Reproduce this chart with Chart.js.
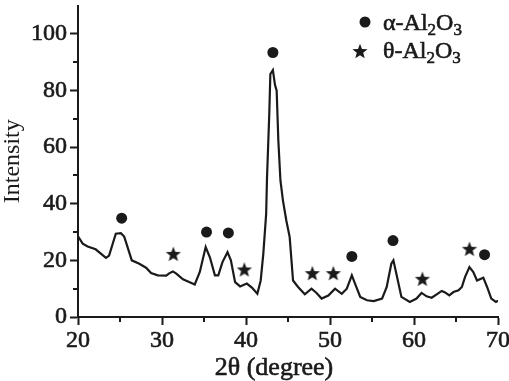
<!DOCTYPE html>
<html>
<head>
<meta charset="utf-8">
<script src="https://cdn.jsdelivr.net/npm/chart.js@4/dist/chart.umd.min.js"></script>
<style>
    html, body { margin: 0; padding: 0; background: #fff; }
    #wrap { width: 509px; height: 381px; }
</style>
</head>
<body>
<div id="wrap"><canvas id="xrd" width="509" height="381"></canvas></div>
<script>
// diffraction pattern
var twoTheta = [20.0, 20.56, 21.15, 22.1, 23.33, 23.7, 24.5, 25.1, 25.5, 25.9, 26.4, 27.3, 28.1, 28.7, 29.5, 30.5,
    30.9, 31.3, 31.7, 32.5, 33.3, 33.9, 34.5, 35.2, 35.7, 36.3, 36.7, 37.2, 37.8, 38.2, 38.7, 39.3, 40.1, 40.7,
    41.35, 41.75, 42.06, 42.4, 42.5, 42.77, 42.9, 43.2, 43.45, 43.65, 43.85, 44.1, 44.4, 44.8, 45.2, 45.6, 46.2,
    47.0, 47.8, 48.4, 49.0, 49.8, 50.6, 51.4, 52.0, 52.6, 53.06, 53.6, 54.4, 55.2, 56.2, 56.75, 57.3, 57.55, 57.9,
    58.5, 59.5, 60.3, 60.9, 61.5, 62.1, 62.7, 63.3, 63.7, 64.2, 64.7, 65.3, 65.7, 66.07, 66.6, 67.06, 67.5, 68.25,
    68.7, 69.2, 69.75, 70.0];
var intensity = [28.5, 25.9, 24.9, 23.9, 20.9, 21.7, 29.4, 29.6, 28.4, 24.7, 20.0, 18.8, 17.4, 15.5, 14.7, 14.6,
    15.5, 16.1, 15.3, 13.3, 12.3, 11.5, 15.9, 24.7, 21.1, 14.7, 14.7, 19.4, 22.9, 20.0, 12.3, 10.8, 11.8, 10.4,
    8.2, 12.9, 22.3, 36.4, 49.0, 71.7, 85.8, 87.2, 82.0, 79.9, 62.3, 48.2, 41.1, 34.1, 28.2, 12.9, 10.6,
    8.0, 10.0, 8.5, 6.5, 7.6, 10.0, 8.2, 10.0, 14.7, 11.2, 7.1, 5.9, 5.6, 6.5, 10.6, 18.8, 20.0, 15.3,
    7.1, 5.3, 6.5, 8.5, 7.3, 6.8, 8.0, 9.2, 8.7, 7.6, 8.8, 9.4, 10.6, 14.1, 17.6, 15.9, 12.9, 13.9,
    10.6, 6.5, 5.3, 5.8];

// phase markers above the peaks
var alphaX = [25.2, 35.3, 37.9, 43.2, 52.6, 57.5, 68.4];
var alphaY = [34.9, 30.0, 29.7, 93.4, 21.4, 27.0, 22.0];
var thetaX = [31.35, 39.8, 47.9, 50.4, 61.0, 66.6];
var thetaY = [22.3, 16.8, 15.5, 15.5, 13.5, 24.1];

var xTicks = [20, 30, 40, 50, 60, 70];
var yTicks = [0, 20, 40, 60, 80, 100];
var xMinor = [25, 35, 45, 55, 65];
var yMinor = [10, 30, 50, 70, 90];

var INK = '#1a1a1a';
var SERIF = '"Liberation Serif", "DejaVu Serif", serif';

function makeStar(r)
{
    var c = document.createElement('canvas');
    c.width = c.height = Math.ceil(2 * r + 2);
    var g = c.getContext('2d');
    var cx = c.width / 2, cy = c.height / 2 + r * 0.1;
    g.beginPath();
    for (var i = 0; i < 10; i++)
    {
        var rad = (i % 2 == 0) ? r : r * 0.42;
        var a = -Math.PI / 2 + i * Math.PI / 5;
        g.lineTo(cx + rad * Math.cos(a), cy + rad * Math.sin(a));
    }
    g.closePath();
    g.fillStyle = INK;
    g.fill();
    return c;
}

var star = makeStar(8);

function pairs(xs, ys)
{
    return xs.map(function(x, i) { return {x: x, y: ys[i]}; });
}

// heavier text, the scanned figure has thick glyphs
function inkText(ctx, s, x, y)
{
    ctx.fillText(s, x, y);
    ctx.strokeText(s, x, y);
}

var extras = {
    id: 'extras',
    afterDraw: function(chart)
    {
        var ctx = chart.ctx;
        var xs = chart.scales.x, ys = chart.scales.y;
        var area = chart.chartArea;

        ctx.save();
        ctx.strokeStyle = INK;
        ctx.lineWidth = 2;
        ctx.beginPath();
        xMinor.forEach(function(v)
        {
            var px = Math.round(xs.getPixelForValue(v));
            ctx.moveTo(px, area.bottom);
            ctx.lineTo(px, area.bottom + 5);
        });
        yMinor.forEach(function(v)
        {
            var py = Math.round(ys.getPixelForValue(v));
            ctx.moveTo(area.left, py);
            ctx.lineTo(area.left - 5, py);
        });
        ctx.stroke();

        ctx.fillStyle = INK;
        ctx.lineWidth = 0.6;

        // x axis title
        ctx.font = '26px ' + SERIF;
        ctx.textAlign = 'center';
        ctx.textBaseline = 'alphabetic';
        inkText(ctx, '2\u03b8 (degree)', 274, 375);

        // legend
        ctx.beginPath();
        ctx.arc(365, 22, 5.5, 0, Math.PI * 2);
        ctx.fill();
        ctx.drawImage(star, 360 - star.width / 2, 51 - star.height / 2);

        drawFormula(ctx, '\u03b1-Al', 383, 30);
        drawFormula(ctx, '\u03b8-Al', 383, 58);
        ctx.restore();
    }
};

function drawFormula(ctx, head, x, y)
{
    ctx.textAlign = 'left';
    ctx.font = '24px ' + SERIF;
    inkText(ctx, head, x, y);
    x += ctx.measureText(head).width;
    ctx.font = '17px ' + SERIF;
    inkText(ctx, '2', x, y + 5);
    x += ctx.measureText('2').width;
    ctx.font = '24px ' + SERIF;
    inkText(ctx, 'O', x, y);
    x += ctx.measureText('O').width;
    ctx.font = '17px ' + SERIF;
    inkText(ctx, '3', x, y + 5);
}

new Chart(document.getElementById('xrd').getContext('2d'), {
    type: 'line',
    data: {
        datasets: [
            {
                data: pairs(twoTheta, intensity),
                borderColor: INK,
                borderWidth: 2.2,
                pointRadius: 0,
                tension: 0,
                fill: false
            },
            {
                type: 'scatter',
                data: pairs(alphaX, alphaY),
                pointStyle: 'circle',
                pointRadius: 5.5,
                backgroundColor: INK,
                borderWidth: 0,
                showLine: false
            },
            {
                type: 'scatter',
                data: pairs(thetaX, thetaY),
                pointStyle: star,
                showLine: false
            }
        ]
    },
    options: {
        responsive: false,
        animation: false,
        layout: { padding: { top: 5, right: 11, left: 0, bottom: 0 } },
        plugins: {
            legend: { display: false },
            tooltip: { enabled: false }
        },
        scales: {
            x: {
                type: 'linear',
                min: 20,
                max: 70,
                afterFit: function(s) { s.height = 64; s.paddingLeft = 0; s.paddingRight = 0; },
                afterBuildTicks: function(s) { s.ticks = xTicks.map(function(v) { return {value: v}; }); },
                grid: { drawOnChartArea: false, drawTicks: true, tickLength: 8, tickColor: INK, tickWidth: 2 },
                border: { display: true, color: INK, width: 2 },
                ticks: { color: INK, font: { family: SERIF, size: 24 }, padding: 1, maxRotation: 0, textStrokeColor: INK, textStrokeWidth: 0.6 }
            },
            y: {
                min: 0,
                max: 110,
                afterFit: function(s) { s.width = 78; s.paddingTop = 0; s.paddingBottom = 0; },
                afterBuildTicks: function(s) { s.ticks = yTicks.map(function(v) { return {value: v}; }); },
                grid: { drawOnChartArea: false, drawTicks: true, tickLength: 8, tickColor: INK, tickWidth: 2 },
                border: { display: true, color: INK, width: 2 },
                ticks: { color: INK, font: { family: SERIF, size: 24 }, padding: 3, textStrokeColor: INK, textStrokeWidth: 0.6 },
                title: { display: true, text: 'Intensity', color: INK, font: { family: SERIF, size: 24 }, padding: { top: -2, bottom: 0 } }
            }
        }
    },
    plugins: [extras]
});
</script>
</body>
</html>
